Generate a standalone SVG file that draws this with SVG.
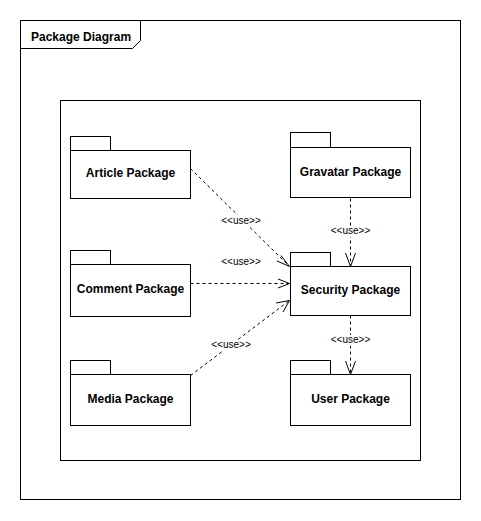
<svg xmlns="http://www.w3.org/2000/svg" width="481" height="521" viewBox="0 0 481 521">
<style>
.b{fill:#fff;stroke:#000;stroke-width:1}
.t{font-family:"Liberation Sans",Arial,sans-serif;font-size:12px;font-weight:bold;text-anchor:middle;fill:#000}
.c{fill:none;stroke:#000;stroke-width:1;stroke-dasharray:3,3}
.h{fill:none;stroke:#000;stroke-width:1}
.l{font-family:"Liberation Sans",Arial,sans-serif;font-size:10px;text-anchor:middle;fill:#000}
.lb{fill:#fff}
</style>
<rect width="481" height="521" fill="#fff"/>
<g id="frame">
<rect x="20.5" y="20.5" width="440" height="479" class="b"/>
<path d="M20.5,48.5 L132.5,48.5 L140.5,40.5 L140.5,20.5" class="h"/>
<text x="31" y="41" style="font-family:'Liberation Sans',Arial,sans-serif;font-size:12px;font-weight:bold">Package Diagram</text>
</g>
<g id="container">
<rect x="60.5" y="100.5" width="360" height="360" class="b"/>
</g>
<g id="connectors">
<path d="M190.5,168.5 L289.5,266.5" class="c"/>
<path d="M281,255.5 L289.5,266.5 L277,261" class="h"/>
<rect x="218" y="215" width="46" height="11" class="lb"/>
<text x="241" y="224" class="l">&lt;&lt;use&gt;&gt;</text>
<path d="M190.5,283.5 L289.5,283.5" class="c"/>
<path d="M278,279 L289.5,283.5 L278,288" class="h"/>
<text x="241" y="265" class="l">&lt;&lt;use&gt;&gt;</text>
<path d="M190.5,375.5 L289.5,300.5" class="c"/>
<path d="M276,303 L289.5,300.5 L283,312" class="h"/>
<rect x="208" y="340" width="46" height="11" class="lb"/>
<text x="231" y="348" class="l">&lt;&lt;use&gt;&gt;</text>
<path d="M350.5,198.5 L350.5,266.5" class="c"/>
<path d="M345.5,253 L350.5,266.5 L355.5,253" class="h"/>
<rect x="327" y="226" width="46" height="11" class="lb"/>
<text x="350.5" y="234" class="l">&lt;&lt;use&gt;&gt;</text>
<path d="M350.5,315.5 L350.5,374.5" class="c"/>
<path d="M345.5,361 L350.5,374.5 L355.5,361" class="h"/>
<rect x="327" y="335" width="46" height="11" class="lb"/>
<text x="350.5" y="343" class="l">&lt;&lt;use&gt;&gt;</text>
</g>
<g id="article">
<rect x="70.5" y="136.5" width="40" height="14" class="b"/>
<rect x="70.5" y="150.5" width="120" height="48" class="b"/>
<text x="130.5" y="177" class="t">Article Package</text>
</g>
<g id="gravatar">
<rect x="290.5" y="132.5" width="40" height="15" class="b"/>
<rect x="290.5" y="147.5" width="120" height="50" class="b"/>
<text x="350.5" y="176" class="t">Gravatar Package</text>
</g>
<g id="comment">
<rect x="70.5" y="250.5" width="40" height="14" class="b"/>
<rect x="70.5" y="264.5" width="120" height="52" class="b"/>
<text x="130.5" y="293" class="t">Comment Package</text>
</g>
<g id="security">
<rect x="290.5" y="252.5" width="40" height="14" class="b"/>
<rect x="290.5" y="266.5" width="120" height="49" class="b"/>
<text x="350.5" y="294" class="t">Security Package</text>
</g>
<g id="media">
<rect x="70.5" y="360.5" width="40" height="14" class="b"/>
<rect x="70.5" y="374.5" width="120" height="51" class="b"/>
<text x="130.5" y="403" class="t">Media Package</text>
</g>
<g id="user">
<rect x="290.5" y="360.5" width="40" height="14" class="b"/>
<rect x="290.5" y="374.5" width="120" height="51" class="b"/>
<text x="350.5" y="403" class="t">User Package</text>
</g>
</svg>
